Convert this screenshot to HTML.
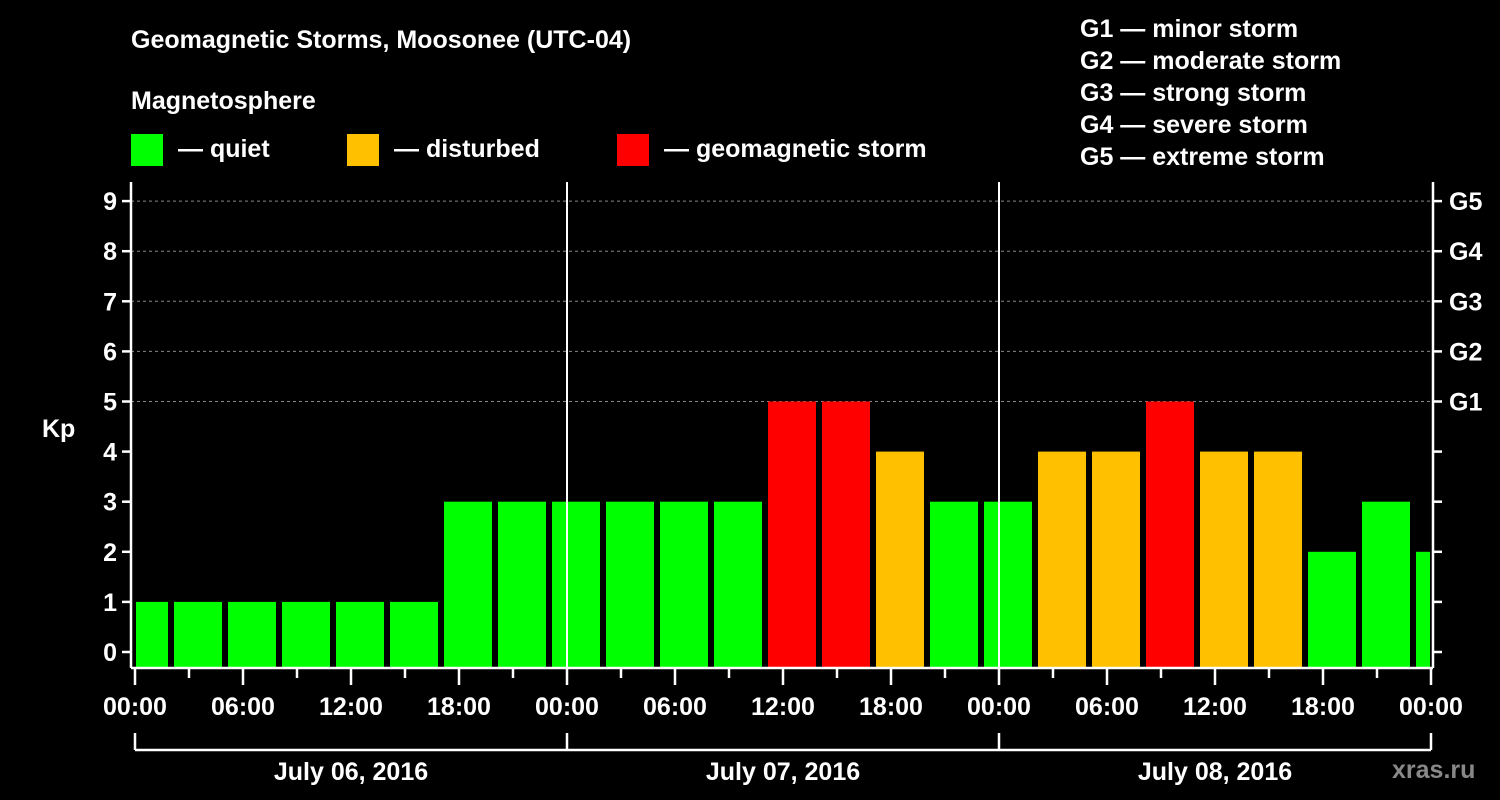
<!DOCTYPE html>
<html><head><meta charset="utf-8"><style>
body{margin:0;background:#000;width:1500px;height:800px;overflow:hidden}
svg{display:block;font-family:"Liberation Sans",Arial,sans-serif;font-weight:bold;fill:#fff}
</style></head><body>
<svg id="chart" width="1500" height="800">
<rect width="1500" height="800" fill="#000"/>
<text x="131" y="48" font-size="25">Geomagnetic Storms, Moosonee (UTC-04)</text>
<text x="131" y="109" font-size="25">Magnetosphere</text>
<g><rect x="131" y="134" width="32" height="32" fill="#00ff00"/><text x="178" y="157" font-size="25">— quiet</text></g>
<g><rect x="347" y="134" width="32" height="32" fill="#ffc000"/><text x="394" y="157" font-size="25">— disturbed</text></g>
<g><rect x="617" y="134" width="32" height="32" fill="#ff0000"/><text x="664" y="157" font-size="25">— geomagnetic storm</text></g>
<g font-size="25">
<text x="1080" y="37">G1 — minor storm</text>
<text x="1080" y="69">G2 — moderate storm</text>
<text x="1080" y="101">G3 — strong storm</text>
<text x="1080" y="133">G4 — severe storm</text>
<text x="1080" y="165">G5 — extreme storm</text>
</g>
<text x="42" y="437" font-size="25">Kp</text>
<text x="1392" y="778" font-size="25" fill="#888" style="fill:#888">xras.ru</text>
<g id="grid"></g><g id="bars"></g><g id="axes"></g>
</svg>
<script>
const kpValues=[1,1,1,1,1,1,3,3,3,3,3,3,5,5,4,3,3,4,4,5,4,4,2,3,2];
const slotStartHours=[-1,2,5,8,11,14,17,20,23,26,29,32,35,38,41,44,47,50,53,56,59,62,65,68,71];
const yTicks=[0,1,2,3,4,5,6,7,8,9];
const gLabels=["G1","G2","G3","G4","G5"];
const xTickLabels=["00:00","06:00","12:00","18:00","00:00","06:00","12:00","18:00","00:00","06:00","12:00","18:00","00:00"];
const dayLabels=["July 06, 2016","July 07, 2016","July 08, 2016"];
const NS="http://www.w3.org/2000/svg";
const X0=135,PXH=18,Y0=652,PXK=50.1,BOTTOM=668,TOP=182,RIGHT=1433,LEFT=131;
const xs=h=>X0+h*PXH, ys=k=>Y0-k*PXK;
function mk(tag,attrs,parent){const e=document.createElementNS(NS,tag);for(const k in attrs)e.setAttribute(k,attrs[k]);parent.appendChild(e);return e;}
const grid=document.getElementById('grid'),bars=document.getElementById('bars'),axes=document.getElementById('axes');
for(let k=5;k<=9;k++){const l=mk('line',{x1:LEFT,x2:RIGHT,y1:ys(k),y2:ys(k),stroke:'#888','stroke-dasharray':'3,3','stroke-width':1},grid);

}
const color=v=>v>=5?'#ff0000':(v===4?'#ffc000':'#00ff00');
kpValues.forEach((v,i)=>{let a=xs(slotStartHours[i])+3,b=xs(slotStartHours[i]+3)-3;
a=Math.max(a,X0+1);b=Math.min(b,RIGHT-3);
const r=mk('rect',{x:a,y:ys(v),width:b-a,height:BOTTOM-1-ys(v),fill:color(v)},bars);

});
const W={stroke:'#fff','stroke-width':2.5};
mk('line',Object.assign({x1:LEFT,x2:LEFT,y1:TOP,y2:BOTTOM},W),axes);
mk('line',Object.assign({x1:RIGHT,x2:RIGHT,y1:TOP,y2:BOTTOM},W),axes);
mk('line',Object.assign({x1:LEFT,x2:RIGHT,y1:BOTTOM,y2:BOTTOM},W),axes);
[1,2].forEach(d=>mk('line',{x1:xs(24*d),x2:xs(24*d),y1:TOP,y2:BOTTOM,stroke:'#fff','stroke-width':2},axes));
yTicks.forEach(k=>{mk('line',Object.assign({x1:LEFT-9,x2:LEFT,y1:ys(k),y2:ys(k)},W),axes);
mk('line',Object.assign({x1:RIGHT,x2:RIGHT+9,y1:ys(k),y2:ys(k)},W),axes);
const t=mk('text',{x:LEFT-14,y:ys(k)+9,'font-size':25,'text-anchor':'end'},axes);t.textContent=k;

});
gLabels.forEach((g,i)=>{const t=mk('text',{x:1449,y:ys(5+i)+9,'font-size':25},axes);t.textContent=g;

});
for(let h=0;h<=72;h+=3){const maj=h%6===0;mk('line',Object.assign({x1:xs(h),x2:xs(h),y1:BOTTOM,y2:BOTTOM+(maj?17:10)},W),axes);}
xTickLabels.forEach((s,i)=>{const t=mk('text',{x:xs(i*6),y:715,'font-size':25,'text-anchor':'middle'},axes);t.textContent=s;

});
dayLabels.forEach((s,i)=>{const a=xs(24*i),b=xs(24*(i+1));
mk('line',Object.assign({x1:a,x2:b,y1:750,y2:750},W),axes);
mk('line',Object.assign({x1:a,x2:a,y1:733,y2:750},W),axes);
if(i===2)mk('line',Object.assign({x1:b,x2:b,y1:733,y2:750},W),axes);
const t=mk('text',{x:(a+b)/2,y:780,'font-size':25,'text-anchor':'middle'},axes);t.textContent=s;

});
</script>
</body></html>
